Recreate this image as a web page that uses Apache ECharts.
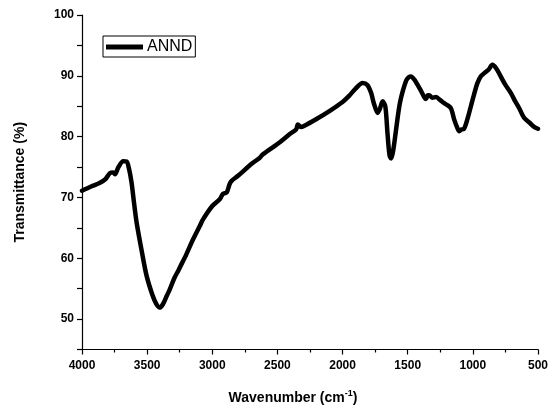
<!DOCTYPE html>
<html>
<head>
<meta charset="utf-8">
<script src="https://cdn.jsdelivr.net/npm/echarts@6/dist/echarts.min.js"></script>
<style>
  html, body { margin: 0; padding: 0; background: #fff; }
  #chart { width: 551px; height: 410px; }
</style>
</head>
<body>
<div id="chart"></div>
<script>
// FTIR spectrum of ANND: wavenumber (cm^-1) vs transmittance (%)
const seriesName = 'ANND';
const wavenumbers = [
  4000, 3930, 3862, 3820, 3786, 3760, 3747, 3720, 3684, 3658,
  3640, 3620, 3600, 3581, 3540, 3504, 3460, 3430, 3403, 3380,
  3350, 3326, 3290, 3260, 3249, 3200, 3150, 3096, 3071, 3000,
  2943, 2918, 2890, 2867, 2853, 2800, 2700, 2637, 2611, 2500,
  2400, 2356, 2343, 2320, 2300, 2200, 2101, 2000, 1950, 1900,
  1846, 1810, 1781, 1760, 1731, 1715, 1692, 1672, 1655, 1640,
  1628, 1615, 1600, 1578, 1560, 1539, 1510, 1490, 1475, 1450,
  1424, 1400, 1370, 1360, 1345, 1335, 1310, 1283, 1250, 1220,
  1190, 1169, 1155, 1143, 1120, 1105, 1085, 1067, 1040, 1015,
  990, 965, 940, 914, 880, 850, 820, 786, 750, 709,
  680, 645, 607, 560, 530, 500
];
const transmittance = [
  71.1, 71.8, 72.4, 73.0, 74.0, 74.1, 73.8, 75.0, 75.95, 75.9,
  74.8, 72.5, 69.0, 65.9, 61.0, 57.1, 54.0, 52.5, 51.9, 52.4,
  53.8, 54.9, 56.8, 58.0, 58.5, 60.6, 63.0, 65.3, 66.4, 68.6,
  69.7, 70.6, 70.8, 72.2, 72.7, 73.6, 75.5, 76.5, 77.1, 78.8,
  80.5, 81.2, 82.0, 81.6, 81.7, 82.9, 84.2, 85.7, 86.7, 87.9,
  88.8, 88.5, 87.2, 85.5, 83.9, 84.5, 85.8, 85.0, 80.5, 77.0,
  76.4, 77.3, 79.4, 83.0, 85.5, 87.4, 89.3, 89.8, 89.9, 89.4,
  88.5, 87.6, 86.4, 86.2, 86.8, 86.8, 86.4, 86.5, 86.0, 85.5,
  85.1, 84.7, 83.8, 82.8, 81.5, 80.9, 81.2, 81.3, 83.0, 85.0,
  87.0, 88.8, 89.9, 90.4, 91.0, 91.8, 91.2, 89.9, 88.5, 87.2,
  86.0, 84.7, 83.1, 82.2, 81.6, 81.3
];
const xTickStep = 500;
const yTickStep = 5;

const spectrum = wavenumbers.map((w, i) => [w, transmittance[i]]);

const chart = echarts.init(document.getElementById('chart'), null, { renderer: 'canvas' });
const font = '"Liberation Sans", Arial, sans-serif';

chart.setOption({
  animation: false,
  backgroundColor: '#fff',
  grid: { left: 82, right: 12, top: 15, bottom: 60 },
  legend: {
    data: [seriesName],
    left: 103,
    top: 36,
    padding: [3, 3, 2, 3],
    itemGap: 0,
    itemWidth: 37,
    itemHeight: 5,
    icon: 'rect',
    borderColor: '#000',
    borderWidth: 1,
    textStyle: { fontFamily: font, fontSize: 16, color: '#000', padding: [0, 0, 0, -1] }
  },
  xAxis: {
    type: 'value',
    inverse: true,
    min: 500,
    max: 4000,
    interval: xTickStep,
    name: 'Wavenumber (cm{sup|-1})',
    nameLocation: 'middle',
    nameGap: 40,
    nameTextStyle: {
      fontFamily: font, fontSize: 14, fontWeight: 'bold', color: '#000',
      padding: [0, 34, 0, 0],
      rich: {
        sup: { fontFamily: font, fontSize: 9, fontWeight: 'bold', color: '#000', verticalAlign: 'top', padding: [0, 0, 8, 0] }
      }
    },
    axisLine: { show: true, lineStyle: { color: '#000', width: 1.2 } },
    axisTick: { show: true, inside: false, length: 5, lineStyle: { color: '#000', width: 1.2 } },
    minorTick: { show: true, splitNumber: 2, length: 3, lineStyle: { color: '#000', width: 1.2 } },
    axisLabel: {
      fontFamily: font, fontSize: 12, fontWeight: 'bold', color: '#000', margin: 10,
      formatter: v => String(v)
    },
    splitLine: { show: false }
  },
  yAxis: {
    type: 'value',
    min: 45,
    max: 100,
    interval: yTickStep,
    name: 'Transmittance (%)',
    nameLocation: 'middle',
    nameGap: 55,
    nameTextStyle: { fontFamily: font, fontSize: 14, fontWeight: 'bold', color: '#000' },
    axisLine: { show: true, lineStyle: { color: '#000', width: 1.2 } },
    axisTick: { show: true, inside: false, length: 5, lineStyle: { color: '#000', width: 1.2 } },
    axisLabel: {
      fontFamily: font, fontSize: 12, fontWeight: 'bold', color: '#000', margin: 8,
      formatter: v => (v % 10 === 0 ? String(v) : '')
    },
    splitLine: { show: false }
  },
  series: [{
    name: seriesName,
    type: 'line',
    data: spectrum,
    showSymbol: false,
    smooth: 0.3,
    lineStyle: { color: '#000', width: 4.5, join: 'round', cap: 'round' },
    itemStyle: { color: '#000' }
  }]
});
</script>
</body>
</html>
